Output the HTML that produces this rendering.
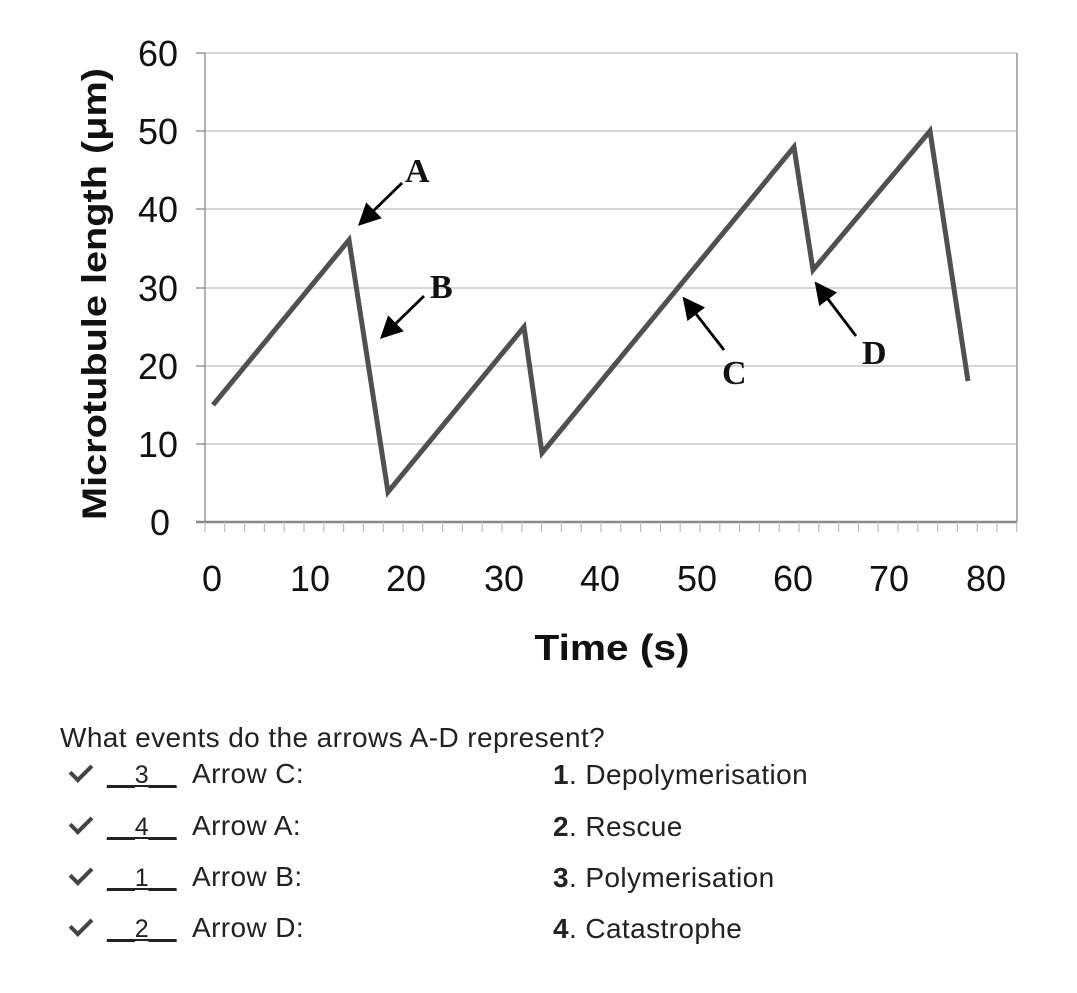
<!DOCTYPE html>
<html><head><style>
body{margin:0;width:1077px;height:993px;background:#fff;overflow:hidden;position:relative;font-family:"Liberation Sans",Arial,sans-serif;}
.t{position:absolute;font-size:28px;letter-spacing:0.4px;color:#222;white-space:nowrap;line-height:1}
.b{font-size:25px;letter-spacing:0}
.ck{position:absolute;left:0;width:18px;height:9px;border-left:4px solid #444;border-bottom:4px solid #444;transform:rotate(-45deg)}
</style></head><body>
<svg width="1077" height="700" style="position:absolute;left:0;top:0" font-family="Liberation Sans, Arial, sans-serif">
<g stroke="#c8c8c8" stroke-width="1.5">
<line x1="203" y1="53" x2="1017" y2="53"/>
<line x1="203" y1="131" x2="1017" y2="131"/>
<line x1="203" y1="209" x2="1017" y2="209"/>
<line x1="203" y1="288" x2="1017" y2="288"/>
<line x1="203" y1="366" x2="1017" y2="366"/>
<line x1="203" y1="444" x2="1017" y2="444"/>
</g>
<g stroke="#999" stroke-width="1.5" fill="none">
<line x1="205" y1="53" x2="205" y2="522"/>
<line x1="1017" y1="53" x2="1017" y2="522"/>
<line x1="196" y1="522" x2="1017" y2="522" stroke="#888" stroke-width="2.5"/>
<line x1="196" y1="53" x2="205" y2="53"/><line x1="196" y1="131" x2="205" y2="131"/><line x1="196" y1="209" x2="205" y2="209"/><line x1="196" y1="288" x2="205" y2="288"/><line x1="196" y1="366" x2="205" y2="366"/><line x1="196" y1="444" x2="205" y2="444"/>
</g>
<g stroke="#bbb" stroke-width="1.2" id="ticks"></g>
<g font-size="36" fill="#111" text-anchor="middle">
<text x="158" y="66" textLength="40" lengthAdjust="spacingAndGlyphs">60</text><text x="158" y="144" textLength="40" lengthAdjust="spacingAndGlyphs">50</text><text x="158" y="222" textLength="40" lengthAdjust="spacingAndGlyphs">40</text><text x="158" y="301" textLength="40" lengthAdjust="spacingAndGlyphs">30</text><text x="158" y="379" textLength="40" lengthAdjust="spacingAndGlyphs">20</text><text x="158" y="457" textLength="40" lengthAdjust="spacingAndGlyphs">10</text><text x="160" y="535" textLength="20" lengthAdjust="spacingAndGlyphs">0</text>
<text x="212" y="591" textLength="20" lengthAdjust="spacingAndGlyphs">0</text><text x="310" y="591" textLength="40" lengthAdjust="spacingAndGlyphs">10</text><text x="406" y="591" textLength="40" lengthAdjust="spacingAndGlyphs">20</text><text x="504" y="591" textLength="40" lengthAdjust="spacingAndGlyphs">30</text><text x="600" y="591" textLength="40" lengthAdjust="spacingAndGlyphs">40</text><text x="697" y="591" textLength="40" lengthAdjust="spacingAndGlyphs">50</text><text x="793" y="591" textLength="40" lengthAdjust="spacingAndGlyphs">60</text><text x="889" y="591" textLength="40" lengthAdjust="spacingAndGlyphs">70</text><text x="986" y="591" textLength="40" lengthAdjust="spacingAndGlyphs">80</text>
</g>
<text x="612" y="660" font-size="36" font-weight="bold" text-anchor="middle" fill="#111" textLength="155" lengthAdjust="spacingAndGlyphs">Time (s)</text>
<text transform="translate(106,294) rotate(-90)" font-size="34" font-weight="bold" text-anchor="middle" fill="#111" textLength="452" lengthAdjust="spacingAndGlyphs">Microtubule length (μm)</text>
<polyline points="213,405 349,240 388,492 524,327 542,453 794,147 813,270 930,131 968,381" fill="none" stroke="#505050" stroke-width="5" stroke-linejoin="miter"/>
<defs><marker id="ah" markerWidth="8" markerHeight="8" refX="6" refY="4" orient="auto" markerUnits="strokeWidth"><path d="M0,0 L8,4 L0,8 z" fill="#000"/></marker></defs>
<g stroke="#000" stroke-width="2.8" marker-end="url(#ah)">
<line x1="402" y1="183" x2="362" y2="222"/>
<line x1="424" y1="296" x2="384" y2="335"/>
<line x1="724" y1="350" x2="686" y2="301"/>
<line x1="856" y1="336" x2="818" y2="286"/>
</g>
<g font-family="Liberation Serif, serif" font-weight="bold" font-size="34" fill="#111">
<text x="405" y="182">A</text><text x="430" y="298">B</text><text x="722" y="384">C</text><text x="862" y="364">D</text>
</g>
</svg>
<script>
var g=document.getElementById('ticks'),s='';
for(var i=0;i<=41;i++){var x=205+i*19.8;s+='<line x1="'+x+'" y1="522" x2="'+x+'" y2="532"/>';}
g.innerHTML=s;
</script>
<div class="t" style="left:60px;top:724px">What events do the arrows A-D represent?</div>
<div style="position:absolute;left:70px;top:760px">
<div class="ck" style="top:4px"></div><div class="t b" style="left:37px;top:3px"><span style="text-decoration:underline">__3__</span></div><div class="t" style="left:122px;top:0px">Arrow C:</div>
<div class="ck" style="top:56px"></div><div class="t b" style="left:37px;top:55px"><span style="text-decoration:underline">__4__</span></div><div class="t" style="left:122px;top:52px">Arrow A:</div>
<div class="ck" style="top:107px"></div><div class="t b" style="left:37px;top:106px"><span style="text-decoration:underline">__1__</span></div><div class="t" style="left:122px;top:103px">Arrow B:</div>
<div class="ck" style="top:158px"></div><div class="t b" style="left:37px;top:157px"><span style="text-decoration:underline">__2__</span></div><div class="t" style="left:122px;top:154px">Arrow D:</div>
</div>
<div class="t" style="left:553px;top:761px"><b>1</b>. Depolymerisation</div>
<div class="t" style="left:553px;top:813px"><b>2</b>. Rescue</div>
<div class="t" style="left:553px;top:864px"><b>3</b>. Polymerisation</div>
<div class="t" style="left:553px;top:915px"><b>4</b>. Catastrophe</div>
</body></html>
